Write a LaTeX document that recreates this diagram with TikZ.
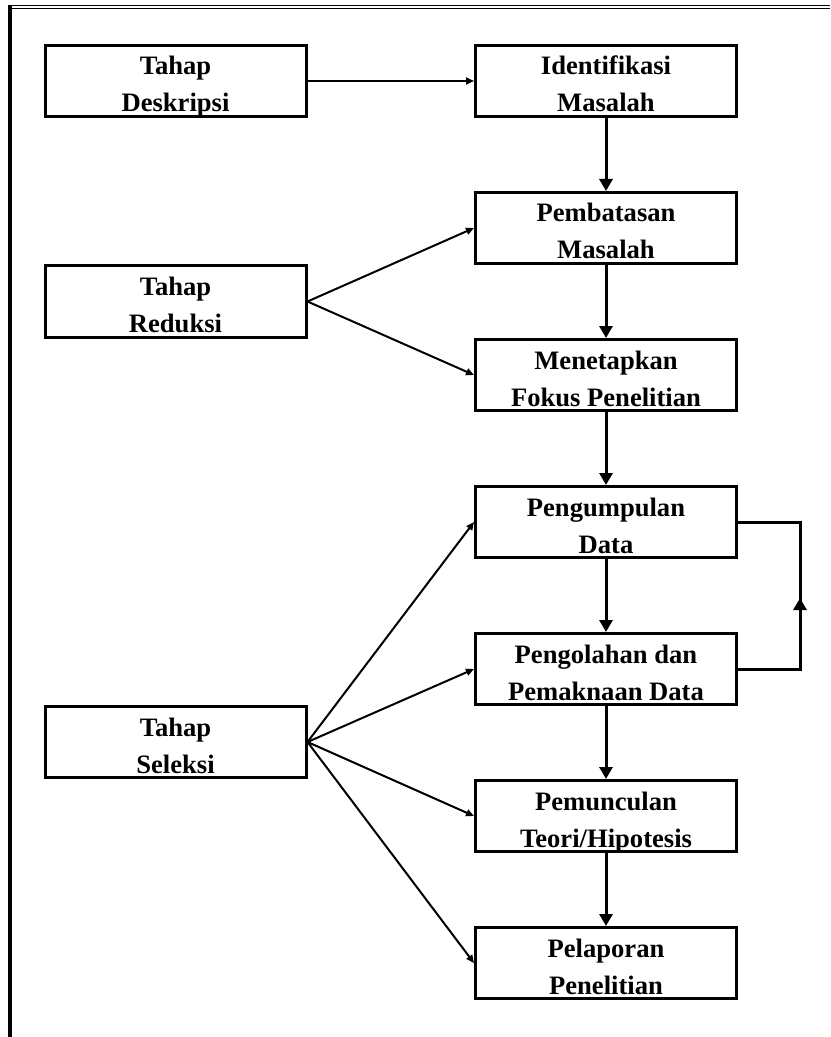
\documentclass[tikz,border=0pt]{standalone}
\usepackage{fontspec}
\setmainfont{Liberation Serif}
\usetikzlibrary{arrows.meta,positioning}

\begin{document}
\begin{tikzpicture}[x=0.5pt,y=-0.5pt,node distance=73.5pt,on grid,
    tahap/.style={draw,line width=1.5pt,minimum width=130.5pt,minimum height=35.5pt,
      inner sep=0pt,align=center,font=\bfseries\fontsize{13.3}{18.5}\selectfont,
      text height=31pt,text depth=0pt},
    alur/.style={line width=1.5pt,-{Triangle[length=6pt,width=6.5pt]}},
    cabang/.style={line width=1pt,-{Triangle[length=4pt,width=3.5pt]}}]
    \useasboundingbox (0,0) rectangle (830,1037);
    % bingkai
    \draw[line width=0.9pt] (8,5.5) -- (830,5.5);
    \draw[line width=0.9pt] (12,8.5) -- (830,8.5);
    \draw[line width=2pt] (10,5) -- (10,1037);
    \node[tahap] (deskripsi) at (175.5,81) {Tahap\\Deskripsi};
    \node[tahap] (identifikasi) [right=215.25pt of deskripsi] {Identifikasi\\Masalah};
    \node[tahap] (pembatasan) [below=of identifikasi] {Pembatasan\\Masalah};
    \node[tahap] (fokus) [below=of pembatasan] {Menetapkan\\Fokus Penelitian};
    \node[tahap] (pengumpulan) [below=of fokus] {Pengumpulan\\Data};
    \node[tahap] (pengolahan) [below=of pengumpulan] {Pengolahan dan\\Pemaknaan Data};
    \node[tahap] (pemunculan) [below=of pengolahan] {Pemunculan\\Teori/Hipotesis};
    \node[tahap] (pelaporan) [below=of pemunculan] {Pelaporan\\Penelitian};
    \node[tahap] (reduksi) [below=110.25pt of deskripsi] {Tahap\\Reduksi};
    \node[tahap] (seleksi) [below=220.25pt of reduksi] {Tahap\\Seleksi};
    \coordinate (balik_b) at (800,669);
    \coordinate (balik_m) at (800,598);
    \coordinate (balik_t) at (800,522);
    \path[alur]
        (identifikasi) edge (pembatasan)
        (pembatasan) edge (fokus)
        (fokus) edge (pengumpulan)
        (pengumpulan) edge (pengolahan)
        (pengolahan) edge (pemunculan)
        (pemunculan) edge (pelaporan);
    \path[cabang]
        (deskripsi.east) edge (identifikasi.west)
        (reduksi.east) edge (pembatasan.west)
                       edge (fokus.west)
        (seleksi.east) edge (pengumpulan.west)
                       edge (pengolahan.west)
                       edge (pemunculan.west)
                       edge (pelaporan.west);
    % umpan balik
    \draw[line width=1.5pt] (pengolahan.east) -- (balik_b) -- (balik_t) -- (pengumpulan.east);
    \draw[alur] (balik_b) -- (balik_m);
\end{tikzpicture}
\end{document}
